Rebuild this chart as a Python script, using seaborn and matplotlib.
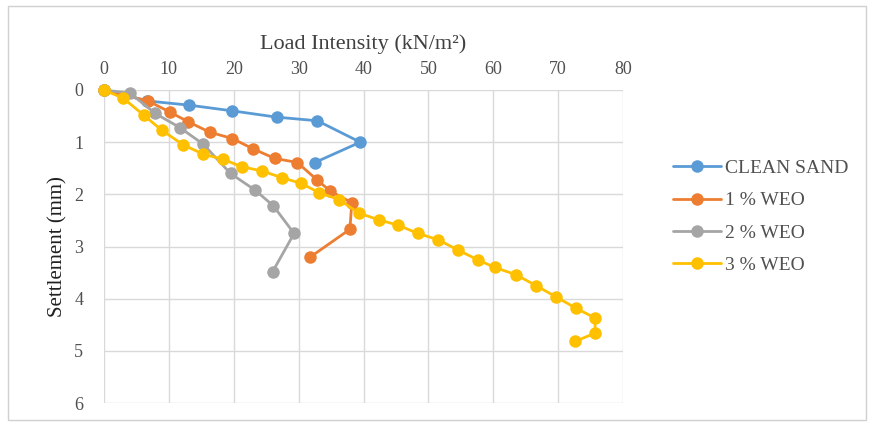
import pandas as pd
import seaborn as sns
import matplotlib.pyplot as plt

# load intensity (kN/m2) and settlement (mm)
clean_load = [0, 6.7, 13.1, 19.8, 26.6, 32.9, 39.5, 32.5]
clean_settle = [0, 0.21, 0.29, 0.40, 0.52, 0.59, 1.00, 1.39]

weo1_load = [0, 6.8, 10.1, 13.0, 16.3, 19.8, 23.0, 26.3, 29.8, 32.9, 34.9, 38.2, 37.9, 31.7]
weo1_settle = [0, 0.21, 0.42, 0.61, 0.81, 0.93, 1.13, 1.31, 1.39, 1.73, 1.94, 2.16, 2.67, 3.21]

weo2_load = [0, 4.0, 7.9, 11.7, 15.3, 19.5, 23.3, 26.1, 29.3, 26.0]
weo2_settle = [0, 0.06, 0.45, 0.72, 1.04, 1.60, 1.92, 2.22, 2.75, 3.48]

weo3_load = [0, 3.0, 6.1, 8.9, 12.2, 15.3, 18.4, 21.2, 24.3, 27.4, 30.4, 33.2, 36.2,
             39.3, 42.4, 45.3, 48.4, 51.5, 54.6, 57.7, 60.2, 63.5, 66.6, 69.6, 72.7,
             75.7, 75.7, 72.6]
weo3_settle = [0, 0.16, 0.48, 0.77, 1.05, 1.23, 1.33, 1.47, 1.55, 1.68, 1.79, 1.97, 2.10,
               2.36, 2.49, 2.59, 2.75, 2.87, 3.07, 3.26, 3.40, 3.54, 3.75, 3.96, 4.18,
               4.37, 4.66, 4.82]

series = ["CLEAN SAND", "1 % WEO", "2 % WEO", "3 % WEO"]
colors = ["#5B9BD5", "#ED7D31", "#A5A5A5", "#FFC000"]

# long table for seaborn
frames = []
for name, x, y in zip(series,
                      [clean_load, weo1_load, weo2_load, weo3_load],
                      [clean_settle, weo1_settle, weo2_settle, weo3_settle]):
    d = pd.DataFrame({"load": x, "settle": y})
    d["series"] = name
    frames.append(d)
df = pd.concat(frames, ignore_index=True)

sns.set_style("white")
plt.rcParams["font.family"] = ["Liberation Serif", "DejaVu Serif"]

fig = plt.figure(figsize=(8.72, 4.25), dpi=100)
ax = fig.add_axes([104 / 872, 1 - 403 / 425, 519 / 872, 313 / 425])

sns.lineplot(data=df, x="load", y="settle", hue="series", hue_order=series,
             palette=colors, sort=False, estimator=None,
             marker="o", markersize=9, markeredgewidth=0, linewidth=2,
             clip_on=False, ax=ax)

ax.set_xlim(0, 80)
ax.set_ylim(6, 0)
ax.set_xticks(range(0, 81, 10))
ax.set_yticks(range(0, 7))
ax.xaxis.tick_top()
ax.xaxis.set_label_position("top")
ax.set_xlabel("Load Intensity (kN/m²)", fontsize=16, color="#404040", labelpad=8)
ax.set_ylabel("Settlement (mm)", fontsize=15, color="#202020", labelpad=5)
ax.tick_params(axis="x", length=0, labelsize=13, labelcolor="#505050", pad=9)
ax.tick_params(axis="y", length=0, labelsize=13, labelcolor="#505050", pad=15)
ax.grid(True, color="#D9D9D9", linewidth=1)
for s in ax.spines.values():
    s.set_visible(False)

handles, labels = ax.get_legend_handles_labels()
ax.legend(handles, labels, loc="center left", bbox_to_anchor=(1.062, 0.595),
          frameon=False, fontsize=14, labelspacing=0.75, handlelength=2.5,
          handletextpad=0.2, labelcolor="#505050")

# outer chart border
fig.patches.append(plt.Rectangle((8 / 872, 5 / 425), 858 / 872, 414 / 425,
                                 transform=fig.transFigure, fill=False,
                                 edgecolor="#D0D0D0", linewidth=1))

plt.savefig("out.png", dpi=100)
plt.close()
